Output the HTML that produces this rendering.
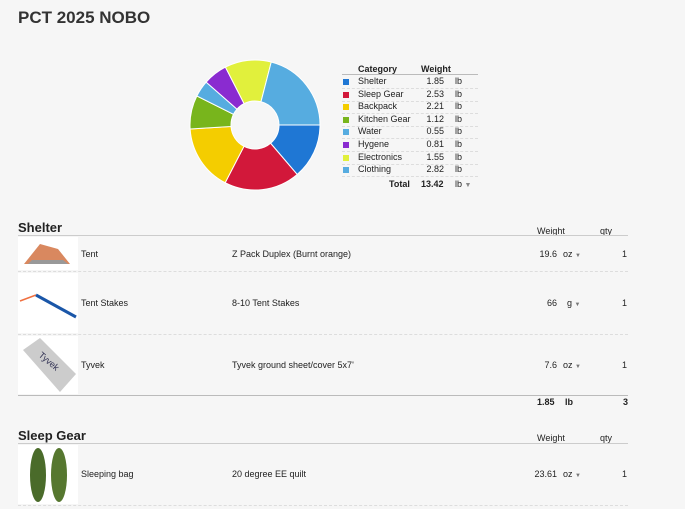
<!DOCTYPE html><html><head><style>
body{margin:0;width:685px;height:509px;background:#f6f6f6;font-family:"Liberation Sans",sans-serif;color:#222;position:relative;overflow:hidden}
.a{position:absolute;white-space:nowrap}
.s{font-size:9px}
.h{font-size:13px;font-weight:bold}
.ln{position:absolute;left:18px;width:610px;border-top:1px solid #ccc}
.dl{position:absolute;left:18px;width:610px;border-top:1px dashed #ddd}
.img{position:absolute;left:18px;width:60px;background:#fff}
</style></head><body>
<div class="a" style="left:18px;top:8px;font-size:17px;font-weight:bold;color:#333">PCT 2025 NOBO</div>
<svg id="pie" class="a" style="left:0;top:0" width="340" height="200"></svg>
<div class="a s" style="left:358px;top:64px;font-weight:bold">Category</div>
<div class="a s" style="left:421px;top:64px;font-weight:bold">Weight</div>
<div class="a" style="left:342px;top:74px;width:136px;border-top:1px solid #bbb"></div>
<div id="leg"></div>
<div class="a s" style="left:389px;top:179px;font-weight:bold">Total</div>
<div class="a s" style="left:421px;top:179px;font-weight:bold">13.42</div>
<div class="a s" style="left:455px;top:179px">lb <span style="color:#888;font-size:7px">▼</span></div>

<div class="a h" style="left:18px;top:220px">Shelter</div>
<div class="a s" style="left:537px;top:226px">Weight</div><div class="a s" style="left:600px;top:226px">qty</div>
<div class="ln" style="top:235px"></div>
<div class="img" style="top:237px;height:33px"><svg width="60" height="33"><polygon points="6,27 22,7 40,12 52,27" fill="#d9885f"/><polygon points="10,27 50,27 45,23 14,23" fill="#999"/></svg></div>
<div class="dl" style="top:271px"></div>
<div class="img" style="top:273px;height:60px"><svg width="60" height="60"><line x1="2" y1="28" x2="18" y2="22" stroke="#f07040" stroke-width="1.5"/><line x1="18" y1="22" x2="58" y2="44" stroke="#1a56a8" stroke-width="3"/></svg></div>
<div class="dl" style="top:334px"></div>
<div class="img" style="top:336px;height:58px"><svg width="60" height="58"><polygon points="5,14 22,2 58,38 42,56" fill="#ccc"/><text x="20" y="20" font-size="9" fill="#335" transform="rotate(40 20 20)">Tyvek</text></svg></div>
<div class="ln" style="top:395px;border-color:#bbb"></div>
<div class="a s" style="left:81px;top:249px">Tent</div><div class="a s" style="left:232px;top:249px">Z Pack Duplex (Burnt orange)</div>
<div class="a s" style="left:81px;top:298px">Tent Stakes</div><div class="a s" style="left:232px;top:298px">8-10 Tent Stakes</div>
<div class="a s" style="left:81px;top:360px">Tyvek</div><div class="a s" style="left:232px;top:360px">Tyvek ground sheet/cover 5x7'</div>
<div class="a s" style="right:128px;top:249px">19.6</div><div class="a s" style="left:563px;top:249px">oz <span style="font-size:6px;color:#777">▼</span></div><div class="a s" style="right:58px;top:249px">1</div>
<div class="a s" style="right:128px;top:298px">66</div><div class="a s" style="left:567px;top:298px">g <span style="font-size:6px;color:#777">▼</span></div><div class="a s" style="right:58px;top:298px">1</div>
<div class="a s" style="right:128px;top:360px">7.6</div><div class="a s" style="left:563px;top:360px">oz <span style="font-size:6px;color:#777">▼</span></div><div class="a s" style="right:58px;top:360px">1</div>
<div class="a s" style="left:537px;top:397px;font-weight:bold">1.85</div><div class="a s" style="left:565px;top:397px;font-weight:bold">lb</div><div class="a s" style="right:57px;top:397px;font-weight:bold">3</div>

<div class="a h" style="left:18px;top:428px">Sleep Gear</div>
<div class="a s" style="left:537px;top:433px">Weight</div><div class="a s" style="left:600px;top:433px">qty</div>
<div class="ln" style="top:443px"></div>
<div class="img" style="top:445px;height:59px"><svg width="60" height="59"><ellipse cx="20" cy="30" rx="8" ry="27" fill="#4a6b2a"/><ellipse cx="41" cy="30" rx="8" ry="27" fill="#56772f"/></svg></div>
<div class="a s" style="left:81px;top:469px">Sleeping bag</div><div class="a s" style="left:232px;top:469px">20 degree EE quilt</div>
<div class="a s" style="right:128px;top:469px">23.61</div><div class="a s" style="left:563px;top:469px">oz <span style="font-size:6px;color:#777">▼</span></div><div class="a s" style="right:58px;top:469px">1</div>
<div class="dl" style="top:505px"></div>
<script>
var d=[["Shelter",1.85,"#1f77d4"],["Sleep Gear",2.53,"#d2183a"],["Backpack",2.21,"#f4cd00"],["Kitchen Gear",1.12,"#78b51c"],["Water",0.55,"#56ace0"],["Hygene",0.81,"#8a2bd0"],["Electronics",1.55,"#e1f03c"],["Clothing",2.82,"#56ace0"]];
var cx=255,cy=125,R=65,r=24,a=0,s="",L="";
d.forEach(function(e,i){var b=a+e[1]/13.44*2*Math.PI;
function p(rr,t){return (cx+rr*Math.cos(t)).toFixed(2)+","+(cy+rr*Math.sin(t)).toFixed(2)}
var lg=(b-a)>Math.PI?1:0;
s+='<path d="M'+p(R,a)+' A'+R+','+R+' 0 '+lg+' 1 '+p(R,b)+' L'+p(r,b)+' A'+r+','+r+' 0 '+lg+' 0 '+p(r,a)+'Z" fill="'+e[2]+'" stroke="#fff" stroke-width="1"/>';
a=b;var y=76+i*12.6;
L+='<div class="a" style="left:343px;top:'+(y+3)+'px;width:6px;height:6px;background:'+e[2]+'"></div><div class="a s" style="left:358px;top:'+y+'px">'+e[0]+'</div><div class="a s" style="right:241px;top:'+y+'px">'+e[1].toFixed(2)+'</div><div class="a s" style="left:455px;top:'+y+'px">lb</div><div class="a" style="left:342px;top:'+(y+12)+'px;width:136px;border-top:1px dashed #ddd"></div>';});
document.getElementById("pie").innerHTML=s;document.getElementById("leg").innerHTML=L;
</script>
</body></html>
